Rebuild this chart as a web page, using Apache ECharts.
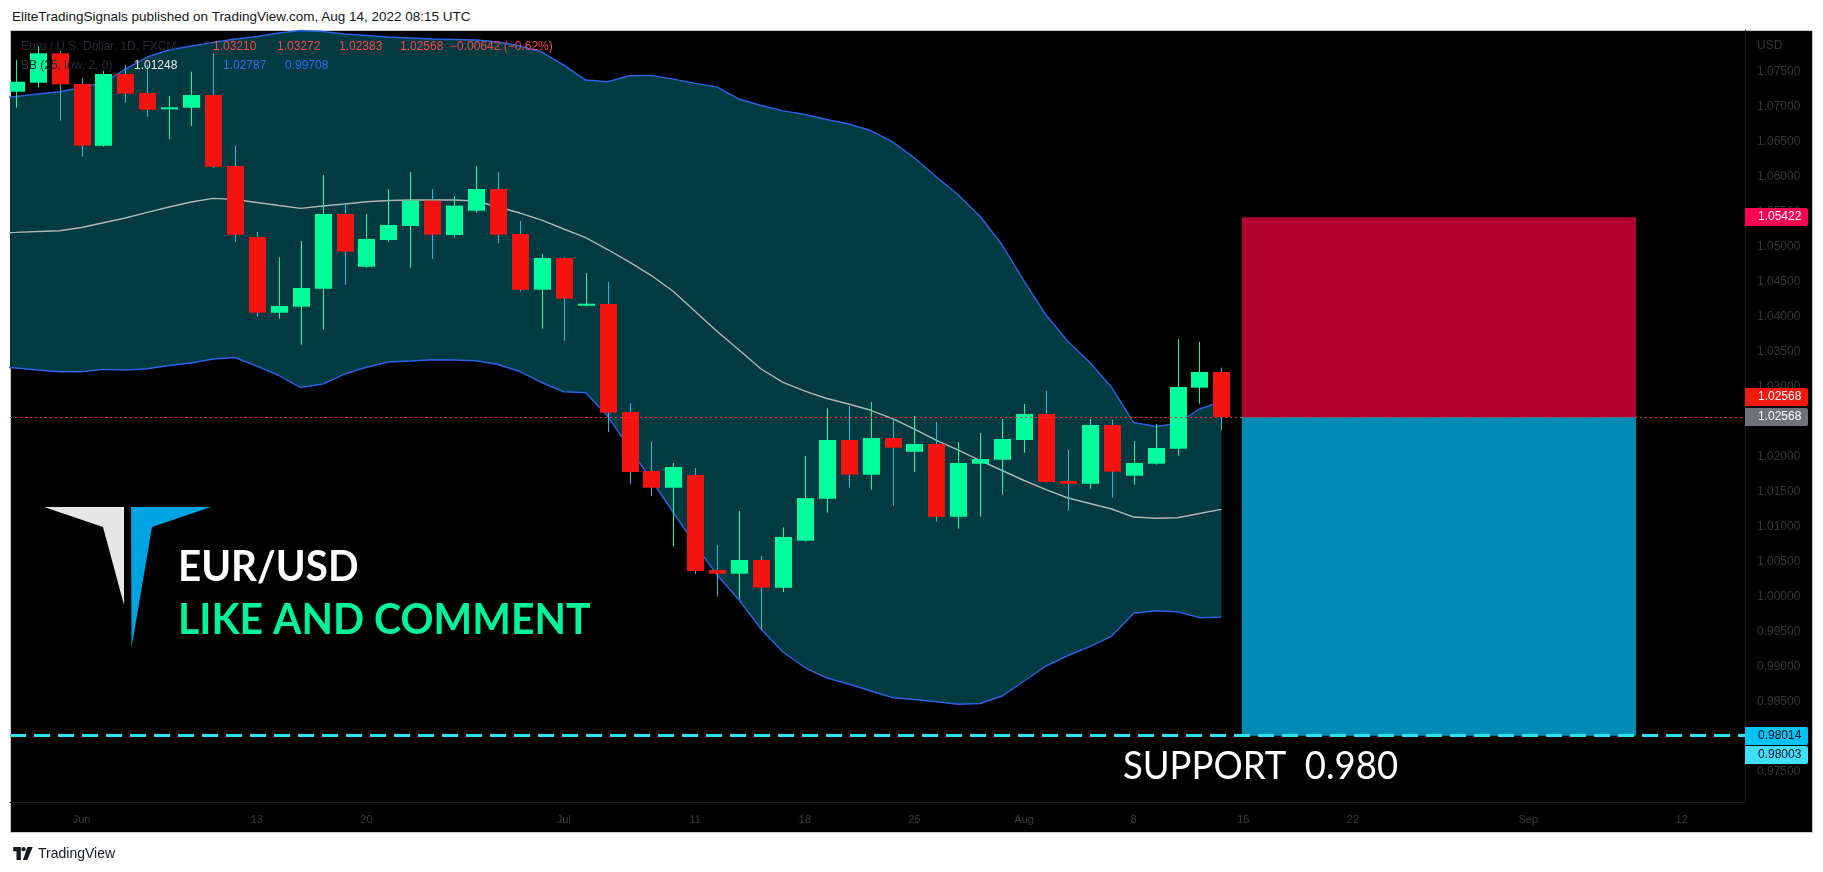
<!DOCTYPE html>
<html>
<head>
<meta charset="utf-8">
<script src="https://cdn.jsdelivr.net/npm/echarts@6/dist/echarts.min.js"></script>
<style>
html,body{margin:0;padding:0;background:#fff;width:1823px;height:872px;overflow:hidden;}
#hdr{position:absolute;left:12px;top:9px;font:13.5px "Liberation Sans",Arial,sans-serif;color:#131722;white-space:nowrap;}
#frame{position:absolute;left:10px;top:30px;width:1801px;height:801px;background:#000;border:1px solid #c8cbd3;}
#c{position:absolute;left:0;top:0;width:1823px;height:872px;}
#foot{position:absolute;left:13px;top:845px;font:14px "Liberation Sans",Arial,sans-serif;color:#131722;display:flex;align-items:center;gap:5px;}
</style>
</head>
<body>
<div id="hdr">EliteTradingSignals published on TradingView.com, Aug 14, 2022 08:15 UTC</div>
<div id="frame"></div>
<div id="c"></div>
<div id="foot"><svg width="20" height="13" viewBox="0 0 18 12"><path d="M0 0h7v12H3V4H0z" fill="#131722"/><circle cx="9.5" cy="2" r="2" fill="#131722"/><path d="M13 0h5l-5 12H9z" fill="#131722"/></svg><span>TradingView</span></div>
<script>
// ---- trading sessions (x categories) ----
const sessions = [
'2022-05-26','2022-05-27','2022-05-30','2022-05-31',
'2022-06-01','2022-06-02','2022-06-03','2022-06-06','2022-06-07','2022-06-08','2022-06-09','2022-06-10',
'2022-06-13','2022-06-14','2022-06-15','2022-06-16','2022-06-17','2022-06-20','2022-06-21','2022-06-22',
'2022-06-23','2022-06-24','2022-06-27','2022-06-28','2022-06-29','2022-06-30',
'2022-07-01','2022-07-04','2022-07-05','2022-07-06','2022-07-07','2022-07-08','2022-07-11','2022-07-12',
'2022-07-13','2022-07-14','2022-07-15','2022-07-18','2022-07-19','2022-07-20','2022-07-21','2022-07-22',
'2022-07-25','2022-07-26','2022-07-27','2022-07-28','2022-07-29',
'2022-08-01','2022-08-02','2022-08-03','2022-08-04','2022-08-05','2022-08-08','2022-08-09','2022-08-10',
'2022-08-11','2022-08-12','2022-08-15','2022-08-16','2022-08-17','2022-08-18','2022-08-19','2022-08-22',
'2022-08-23','2022-08-24','2022-08-25','2022-08-26','2022-08-29','2022-08-30','2022-08-31',
'2022-09-01','2022-09-02','2022-09-05','2022-09-06','2022-09-07','2022-09-08','2022-09-09',
'2022-09-12','2022-09-13','2022-09-14','2022-09-15','2022-09-16'];

// ---- candles (EUR/USD 1D) ----
const dates = sessions.slice(1, 57);
const open = [
1.07214,1.07343,1.07763,1.07324,1.06443,1.07467,1.07196,1.06963,1.06986,1.07167,
1.06153,1.05139,1.04057,1.04143,1.04400,1.05467,1.04714,1.05096,1.05296,1.05657,
1.05167,1.05514,1.05824,1.05181,1.04386,1.04838,1.04157,1.04181,1.02638,1.01796,
1.01557,1.01738,1.00381,1.00329,1.00524,1.00129,1.00800,1.01400,1.02239,1.01743,
1.02267,1.02071,1.02181,1.01143,1.01900,1.01957,1.02239,1.02610,1.01653,1.01614,
1.02453,1.01729,1.01900,1.02114,1.02986,1.03210];
const close = [
1.07357,1.07763,1.07320,1.06443,1.07467,1.07186,1.06957,1.06991,1.07167,1.06143,
1.05171,1.04057,1.04153,1.04410,1.05467,1.04929,1.05110,1.05310,1.05657,1.05171,
1.05586,1.05824,1.05171,1.04386,1.04838,1.04257,1.04186,1.02629,1.01781,1.01557,
1.01853,1.00367,1.00329,1.00524,1.00129,1.00853,1.01409,1.02239,1.01743,1.02267,
1.02129,1.02181,1.01143,1.01910,1.01967,1.02253,1.02610,1.01639,1.01614,1.02453,
1.01786,1.01910,1.02124,1.02996,1.03210,1.02568];
const low = [
1.06986,1.07277,1.06800,1.06286,1.06430,1.07057,1.06857,1.06534,1.06724,1.06129,
1.05071,1.04000,1.03971,1.03600,1.03820,1.04453,1.04700,1.05067,1.04700,1.04829,
1.05129,1.05486,1.05049,1.04357,1.03829,1.03657,1.04150,1.02353,1.01610,1.01439,
1.00714,1.00324,1.00000,0.99963,0.99520,1.00067,1.00786,1.01200,1.01557,1.01529,
1.01300,1.01781,1.01071,1.00971,1.01143,1.01457,1.02057,1.01629,1.01229,1.01543,
1.01414,1.01600,1.01886,1.02014,1.02757,1.02383];
const high = [
1.07667,1.07860,1.07800,1.07406,1.07510,1.07600,1.07600,1.07153,1.07500,1.07760,
1.06439,1.05210,1.04849,1.05081,1.06024,1.05620,1.05467,1.05820,1.06067,1.05820,
1.05724,1.06153,1.06063,1.05367,1.04896,1.04849,1.04624,1.04496,1.02767,1.02210,
1.01910,1.01838,1.00738,1.01224,1.00581,1.00990,1.02010,1.02691,1.02724,1.02781,
1.02543,1.02581,1.02496,1.02210,1.02339,1.02539,1.02753,1.02939,1.02100,1.02539,
1.02524,1.02224,1.02467,1.03680,1.03640,1.03272];

// ---- Bollinger Bands (25, low, 2) ----
const bbDates = sessions.slice(0, 57);
const bbUpper = [
1.07110,1.07146,1.07181,1.07214,1.07274,1.07345,1.07538,1.07710,1.07810,1.07867,
1.07917,1.07967,1.08003,1.08053,1.08088,1.08074,1.08038,1.08017,1.07995,1.07981,
1.07967,1.07960,1.07953,1.07924,1.07867,1.07781,1.07595,1.07381,1.07357,1.07443,
1.07448,1.07395,1.07334,1.07281,1.07110,1.07017,1.06941,1.06888,1.06817,1.06753,
1.06660,1.06498,1.06267,1.05995,1.05738,1.05431,1.05024,1.04510,1.04024,1.03645,
1.03345,1.02988,1.02488,1.02431,1.02474,1.02681,1.02787];
const bbBasis = [
1.05195,1.05205,1.05217,1.05228,1.05274,1.05343,1.05410,1.05491,1.05567,1.05638,
1.05691,1.05674,1.05631,1.05588,1.05548,1.05581,1.05610,1.05643,1.05660,1.05667,
1.05667,1.05667,1.05653,1.05567,1.05481,1.05381,1.05253,1.05131,1.04960,1.04781,
1.04588,1.04360,1.04074,1.03788,1.03524,1.03253,1.03063,1.02938,1.02831,1.02753,
1.02663,1.02543,1.02395,1.02234,1.02095,1.01945,1.01803,1.01660,1.01531,1.01410,
1.01331,1.01253,1.01138,1.01120,1.01128,1.01188,1.01248];
const bbLower = [
1.03288,1.03267,1.03238,1.03214,1.03214,1.03248,1.03238,1.03257,1.03303,1.03338,
1.03395,1.03417,1.03295,1.03160,1.02988,1.03038,1.03181,1.03278,1.03353,1.03367,
1.03385,1.03381,1.03371,1.03317,1.03217,1.03060,1.02928,1.02914,1.02581,1.02124,
1.01667,1.01203,1.00738,1.00310,0.99953,0.99538,0.99210,0.98988,0.98838,0.98753,
0.98653,0.98557,0.98531,0.98500,0.98463,0.98474,0.98581,0.98795,0.99010,0.99160,
0.99288,0.99438,0.99763,0.99800,0.99785,0.99700,0.99708];

// ---- short position tool ----
const entryLevel = 1.02568;
const stopLevel = 1.05422;
const targetLevel = 0.98014;
const supportLevel = 0.98014;
const boxFromBar = 56.93;   // session position (just after Aug 12)
const boxToBar = 74.92;

// ---- axis ticks ----
const xTickDates = ['2022-06-01','2022-06-13','2022-06-20','2022-07-01','2022-07-11','2022-07-18','2022-07-25','2022-08-01','2022-08-08','2022-08-15','2022-08-22','2022-09-01','2022-09-12'];
const xTickLabels = ['Jun','13','20','Jul','11','18','25','Aug','8','15','22','Sep','12'];
const yTicks = [0.975,0.980,0.985,0.990,0.995,1.000,1.005,1.010,1.015,1.020,1.025,1.030,1.035,1.040,1.045,1.050,1.055,1.060,1.065,1.070,1.075];

// ---- legend values ----
const legendOHLC = ['1.03210','1.03272','1.02383','1.02568'];
const legendChange = '\u22120.00642 (\u22120.62%)';
const legendBB = ['1.01248','1.02787','0.99708'];

const GREEN = '#00ff9c', RED = '#f3140f', CYAN_WICK = '#1fbfd9';
const xOf = d => sessions.indexOf(d);
const xTickPos = xTickDates.map(xOf);
const candleData = dates.map((d, i) => [xOf(d), open[i], close[i], low[i], high[i]]);
const bbX = bbDates.map(xOf);

const chart = echarts.init(document.getElementById('c'), null, {renderer: 'canvas'});

function clipOf(params) {
  const c = params.coordSys;
  return {type: 'rect', shape: {x: c.x, y: c.y, width: c.width, height: c.height}};
}

const option = {
  animation: false,
  backgroundColor: 'transparent',
  grid: {left: 10, top: 30, width: 1735, height: 772},
  xAxis: {
    type: 'value', min: 0.738, max: 79.888,
    splitLine: {show: false}, axisTick: {show: false},
    axisLine: {show: true, lineStyle: {color: '#1b1b1b'}},
    axisLabel: {
      customValues: xTickPos,
      formatter: v => xTickLabels[xTickPos.indexOf(v)] || '',
      color: '#3c3c3c', fontSize: 11, margin: 12, fontFamily: 'Liberation Sans'
    }
  },
  yAxis: {
    type: 'value', position: 'right', min: 0.97067, max: 1.08096,
    splitLine: {show: false}, axisTick: {show: false},
    axisLine: {show: true, lineStyle: {color: '#1b1b1b'}},
    axisLabel: {
      customValues: yTicks,
      formatter: v => v.toFixed(5),
      color: '#363636', fontSize: 12, margin: 12, fontFamily: 'Liberation Sans'
    }
  },
  series: [
    { // BB fill
      type: 'custom', silent: true, z: 1,
      data: [[bbX[0], bbUpper[0]]],
      renderItem: (params, api) => {
        const pts = [];
        for (let i = 0; i < bbX.length; i++) pts.push(api.coord([bbX[i], bbUpper[i]]));
        for (let i = bbX.length - 1; i >= 0; i--) pts.push(api.coord([bbX[i], bbLower[i]]));
        return {type: 'group', clipPath: clipOf(params),
          children: [{type: 'polygon', shape: {points: pts}, style: {fill: '#023a42'}}]};
      }
    },
    { // position box
      type: 'line', data: [], z: 1, silent: true,
      markArea: {
        silent: true,
        data: [
          [{xAxis: boxFromBar, yAxis: stopLevel, itemStyle: {color: '#b2002f', opacity: 1}}, {xAxis: boxToBar, yAxis: entryLevel}],
          [{xAxis: boxFromBar, yAxis: entryLevel, itemStyle: {color: '#008bb3', opacity: 1}}, {xAxis: boxToBar, yAxis: targetLevel}]
        ]
      }
    },
    {type: 'line', name: 'upper', z: 2, silent: true, symbol: 'none', data: bbX.map((x, i) => [x, bbUpper[i]]), lineStyle: {color: '#2a62e6', width: 1.4}},
    {type: 'line', name: 'lower', z: 2, silent: true, symbol: 'none', data: bbX.map((x, i) => [x, bbLower[i]]), lineStyle: {color: '#2a62e6', width: 1.4}},
    {type: 'line', name: 'basis', z: 2, silent: true, symbol: 'none', data: bbX.map((x, i) => [x, bbBasis[i]]), lineStyle: {color: '#b4b4b4', width: 1.4}},
    { // candles
      type: 'custom', z: 3, silent: true,
      data: candleData,
      encode: {x: 0, y: [1, 2, 3, 4]},
      renderItem: (params, api) => {
        const x = api.value(0), o = api.value(1), c = api.value(2), l = api.value(3), h = api.value(4);
        const up = c >= o;
        const pO = api.coord([x, o]), pC = api.coord([x, c]), pL = api.coord([x, l]), pH = api.coord([x, h]);
        const cx = Math.round(pO[0]) + 0.5;
        const top = Math.min(pO[1], pC[1]);
        const bh = Math.max(Math.abs(pO[1] - pC[1]), 2);
        return {type: 'group', clipPath: clipOf(params), children: [
          {type: 'line', shape: {x1: cx, y1: pH[1], x2: cx, y2: pL[1]}, style: {stroke: up ? GREEN : CYAN_WICK, lineWidth: 1}},
          {type: 'rect', shape: {x: cx - 8.5, y: top, width: 17, height: bh}, style: {fill: up ? GREEN : RED}}
        ]};
      }
    },
    { // price lines
      type: 'line', data: [], z: 4, silent: true,
      markLine: {
        silent: true, precision: 5, symbol: ['none', 'none'], label: {show: false},
        data: [
          {yAxis: entryLevel, lineStyle: {color: '#f23030', width: 1, type: [2, 3]}},
          {yAxis: supportLevel, lineStyle: {color: '#2de2f2', width: 3, type: [16, 8]}}
        ]
      }
    }
  ]
};
chart.setOption(option);

const yp = v => chart.convertToPixel({yAxisIndex: 0}, v);
const FONT = '"Liberation Sans", Arial, sans-serif';
function tag(val, dy, bg, fg) {
  const y = Math.round(yp(val) + dy);
  return [
    {type: 'rect', z: 50, shape: {x: 1745, y: y - 9, width: 63, height: 18, r: [0, 2, 2, 0]}, style: {fill: bg}},
    {type: 'text', z: 51, x: 1758, y: y, style: {text: val.toFixed(5), fill: fg, font: '12px ' + FONT, verticalAlign: 'middle'}}
  ];
}
function txt(x, y, s, fill, font, sx) {
  return {type: 'text', z: 40, x: x, y: y, scaleX: sx || 1, style: {text: s, fill: fill, font: font, verticalAlign: 'middle'}};
}
const lf = '12px ' + FONT;
const gfx = [
  // legend rows
  txt(21, 47, 'Euro / U.S. Dollar, 1D, FXCM', '#262a33', lf),
  txt(202, 47, 'O', '#262a33', lf), txt(213, 47, legendOHLC[0], '#ff4444', lf),
  txt(265, 47, 'H', '#262a33', lf), txt(277, 47, legendOHLC[1], '#ff4444', lf),
  txt(328, 47, 'L', '#262a33', lf), txt(339, 47, legendOHLC[2], '#ff4444', lf),
  txt(390, 47, 'C', '#262a33', lf), txt(400, 47, legendOHLC[3], '#ff4444', lf),
  txt(450, 47, legendChange, '#ff4444', lf),
  txt(21, 66, 'BB (25, low, 2, 0)', '#262a33', lf),
  txt(134, 66, legendBB[0], '#e8e8e8', lf),
  txt(223, 66, legendBB[1], '#2f6cf2', lf),
  txt(285, 66, legendBB[2], '#2f6cf2', lf),
  txt(1757, 46, 'USD', '#363636', lf),
  // logo
  {type: 'polygon', z: 40, shape: {points: [[44, 507], [124, 507], [124, 605], [103, 527]]}, style: {fill: '#e6e6e6'}},
  {type: 'polygon', z: 40, shape: {points: [[131, 507], [211, 507], [152, 527], [131.5, 648]]}, style: {fill: '#00a3e2'}},
  // annotation texts
  txt(178, 567, 'EUR/USD', '#ffffff', 'bold 42px Lato', 0.96),
  txt(178, 620, 'LIKE AND COMMENT', '#00f59b', 'bold 42px Lato', 0.975),
  txt(1123, 767, 'SUPPORT  0.980', '#ffffff', '38px Lato', 0.96),
  // price tags
  ...tag(stopLevel, 0, '#ff0052', '#ffffff'),
  ...tag(entryLevel, -19.5, '#f2190f', '#ffffff'),
  ...tag(entryLevel, 0, '#6f727b', '#ffffff'),
  ...tag(targetLevel, 0, '#00c3f3', '#0b0e14'),
  ...tag(0.98003, 19, '#3fe0ff', '#0b0e14')
];
chart.setOption({graphic: {elements: gfx}});
</script>
</body>
</html>
